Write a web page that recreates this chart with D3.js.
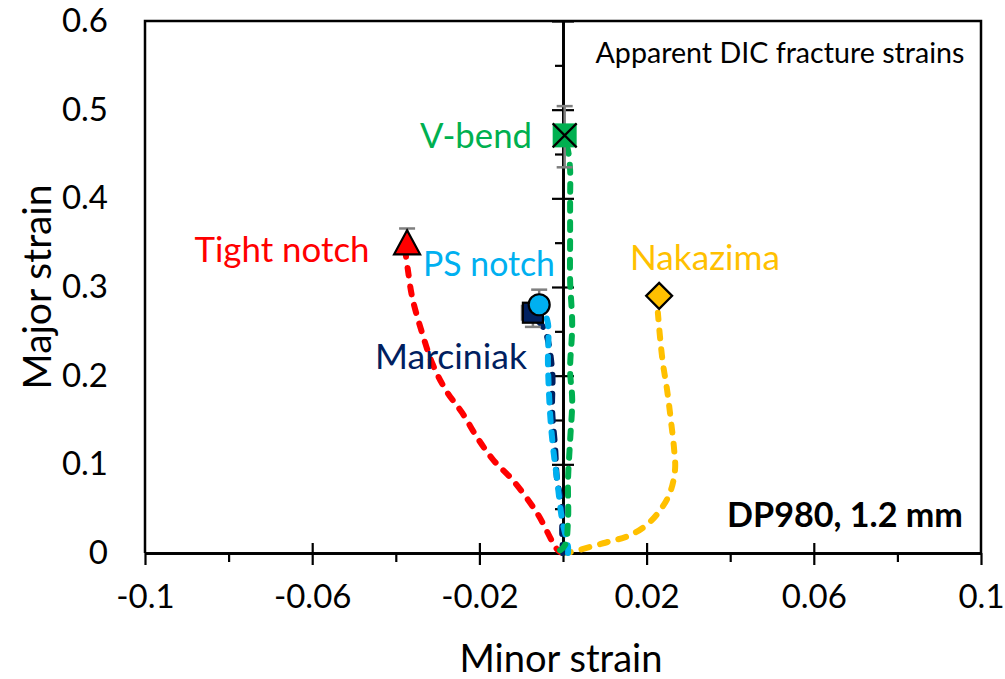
<!DOCTYPE html>
<html><head><meta charset="utf-8">
<script src="https://cdn.jsdelivr.net/npm/d3@7"></script>
<style>body{margin:0;background:#fff}svg{display:block}text{font-family:Lato,"Open Sans",sans-serif}</style>
</head><body>
<script>
// ---------- data ----------
const xMajorTicks = [-0.1, -0.06, -0.02, 0.02, 0.06, 0.1];
const xMajorLabels = ["-0.1", "-0.06", "-0.02", "0.02", "0.06", "0.1"];
const xMinorTicks = [-0.08, -0.04, 0, 0.04, 0.08];
const yMajorTicks = [0, 0.1, 0.2, 0.3, 0.4, 0.5, 0.6];
const yMajorLabels = ["0", "0.1", "0.2", "0.3", "0.4", "0.5", "0.6"];
const yMinorTicks = [0.05, 0.15, 0.25, 0.35, 0.45, 0.55];

const tightMinor = [0, -0.0012, -0.0062, -0.0120, -0.0167, -0.0205, -0.0241, -0.0278, -0.0311, -0.0337, -0.0361, -0.0371, -0.0376];
const tightMajor = [0, 0.003, 0.045, 0.082, 0.105, 0.130, 0.158, 0.182, 0.212, 0.248, 0.289, 0.319, 0.336];

const nakMinor = [0, 0.0017, 0.0096, 0.0160, 0.0201, 0.0232, 0.0256, 0.0268, 0.0266, 0.0258, 0.0249, 0.0239, 0.0232, 0.0227];
const nakMajor = [0, 0.001, 0.011, 0.020, 0.032, 0.048, 0.068, 0.094, 0.116, 0.150, 0.184, 0.214, 0.244, 0.271];

const vbendMinor = [-0.0007, 0.0005, 0.0012, 0.0012, 0.0017, 0.0022, 0.0017, 0.0022, 0.0017, 0.0017, 0.0017, 0.0017, 0.0012, 0.0004];
const vbendMajor = [0.003, 0.009, 0.037, 0.082, 0.127, 0.173, 0.206, 0.257, 0.308, 0.353, 0.398, 0.432, 0.454, 0.466];

const marcMinor = [0, -0.0002, -0.0002, -0.0014, -0.0019, -0.0026, -0.0026, -0.0043, -0.0060];
const marcMajor = [0, 0.023, 0.052, 0.082, 0.120, 0.161, 0.206, 0.251, 0.262];

const psMinor = [0.0012, 0.0012, -0.0002, -0.0014, -0.0024, -0.0031, -0.0036, -0.0036, -0.0045];
const psMajor = [0, 0.007, 0.037, 0.082, 0.120, 0.158, 0.214, 0.259, 0.272];

// fracture points
const fractureNames = ["Tight notch", "PS notch", "Marciniak", "Nakazima", "V-bend"];
const fractureMinor = [-0.0373, -0.0057, -0.0072, 0.0230, 0.0004];
const fractureMajor = [0.347, 0.280, 0.271, 0.290, 0.471];
const fractureErrLow = [0.338, 0.275, 0.255, 0.290, 0.435];
const fractureErrHigh = [0.366, 0.297, 0.271, 0.290, 0.504];
const fractureErrMinorLow = [-0.0373, -0.0057, -0.0098, 0.0230, 0.0004];

const colors = {tight: "#FF0000", ps: "#00B0F0", marc: "#002060", nak: "#FFC000", vbend: "#00B050"};

// ---------- layout ----------
const W = 1005, H = 679;
const svg = d3.select("body").append("svg").attr("width", W).attr("height", H);
const x = d3.scaleLinear().domain([-0.1, 0.1]).range([145, 981]);
const y = d3.scaleLinear().domain([0, 0.6]).range([553, 21]);

function fit(sel, width) {
  const n = sel.node();
  const fs = parseFloat(sel.attr("font-size"));
  const w = n.getComputedTextLength();
  sel.attr("font-size", fs * width / w);
  return sel;
}

// frame
svg.append("path")
  .attr("d", `M${x(-0.1)},${y(0)}V${y(0.6)}H${x(0.1)}V${y(0)}`)
  .attr("fill", "none").attr("stroke", "#000").attr("stroke-width", 2.5);

// x axis
const gx = svg.append("g").attr("transform", `translate(0,${y(0)})`);
gx.call(d3.axisBottom(x).tickValues(xMajorTicks).tickSize(12).tickSizeOuter(0)
  .tickFormat((d, i) => xMajorLabels[i]).tickPadding(20));
gx.append("g").call(d3.axisTop(x).tickValues(xMajorTicks.slice(1, -1)).tickSize(10).tickSizeOuter(0).tickFormat(""));
gx.append("g").call(d3.axisBottom(x).tickValues(xMinorTicks).tickSize(9).tickSizeOuter(0).tickFormat(""));
gx.selectAll("path.domain").attr("stroke", "#000").attr("stroke-width", 2.5);
gx.selectAll(".tick line").attr("stroke", "#000").attr("stroke-width", 2.2);
gx.selectAll(".tick text").attr("font-size", 33).attr("fill", "#000").attr("font-family", "Lato");

// y labels on left frame
const gyl = svg.append("g").attr("transform", `translate(${x(-0.1)},0)`);
gyl.call(d3.axisLeft(y).tickValues(yMajorTicks).tickSize(0).tickPadding(37)
  .tickFormat((d, i) => yMajorLabels[i]));
gyl.select("path.domain").remove();
gyl.selectAll(".tick text").attr("font-size", 33).attr("fill", "#000").attr("font-family", "Lato");

// y axis line at x = 0
const gy = svg.append("g").attr("transform", `translate(${x(0)},0)`);
gy.call(d3.axisLeft(y).tickValues(yMajorTicks.slice(1)).tickSize(11).tickSizeOuter(0).tickFormat(""));
gy.append("g").call(d3.axisRight(y).tickValues(yMajorTicks.slice(1)).tickSize(11).tickSizeOuter(0).tickFormat(""));
gy.append("g").call(d3.axisLeft(y).tickValues(yMinorTicks).tickSize(8).tickSizeOuter(0).tickFormat(""));
gy.selectAll("path.domain").attr("stroke", "#000").attr("stroke-width", 2.5);
gy.selectAll(".tick line").attr("stroke", "#000").attr("stroke-width", 2.2);

// axis titles
fit(svg.append("text").attr("x", 561).attr("y", 657).attr("text-anchor", "middle")
  .attr("dominant-baseline", "central").attr("font-size", 30).text("Minor strain"), 203);
fit(svg.append("text").attr("transform", "translate(36,287) rotate(-90)").attr("text-anchor", "middle")
  .attr("dominant-baseline", "central").attr("font-size", 30).text("Major strain"), 205);

// curves
const line = d3.line().x(d => x(d[0])).y(d => y(d[1])).curve(d3.curveCatmullRom.alpha(0.5));
function curve(mx, my, color) {
  svg.append("path").datum(mx.map((v, i) => [v, my[i]]))
    .attr("d", line).attr("fill", "none").attr("stroke", color)
    .attr("stroke-width", 6).attr("stroke-linecap", "round")
    .attr("stroke-dasharray", "8,11");
}
curve(tightMinor, tightMajor, colors.tight);
curve(nakMinor, nakMajor, colors.nak);
curve(marcMinor, marcMajor, colors.marc);
curve(psMinor, psMajor, colors.ps);
curve(vbendMinor, vbendMajor, colors.vbend);

// error bars
const eg = svg.append("g").attr("stroke", "#7F7F7F").attr("stroke-width", 2.5).attr("fill", "none");
fractureMinor.forEach((mx, i) => {
  const cx = x(mx);
  if (fractureErrHigh[i] !== fractureErrLow[i]) {
    eg.append("line").attr("x1", cx).attr("x2", cx).attr("y1", y(fractureErrLow[i])).attr("y2", y(fractureErrHigh[i]));
    eg.append("line").attr("x1", cx - 8).attr("x2", cx + 8).attr("y1", y(fractureErrHigh[i])).attr("y2", y(fractureErrHigh[i]));
    if (fractureErrLow[i] < fractureMajor[i])
      eg.append("line").attr("x1", cx - 8).attr("x2", cx + 8).attr("y1", y(fractureErrLow[i])).attr("y2", y(fractureErrLow[i]));
  }
  if (fractureErrMinorLow[i] !== mx) {
    const cy = y(fractureMajor[i]);
    eg.append("line").attr("x1", x(fractureErrMinorLow[i])).attr("x2", cx).attr("y1", cy).attr("y2", cy);
    eg.append("line").attr("x1", x(fractureErrMinorLow[i])).attr("x2", x(fractureErrMinorLow[i])).attr("y1", cy - 8).attr("y2", cy + 8);
  }
});

// markers
const mg = svg.append("g").attr("stroke", "#000").attr("stroke-width", 2.2);
{
  const cx = x(fractureMinor[0]), cy = y(fractureMajor[0]);
  mg.append("path").attr("d", `M${cx},${cy - 15}L${cx + 13},${cy + 9}L${cx - 13},${cy + 9}Z`).attr("fill", colors.tight);
}
{
  const cx = x(fractureMinor[2]), cy = y(fractureMajor[2]);
  mg.append("rect").attr("x", cx - 10).attr("y", cy - 10).attr("width", 20).attr("height", 20).attr("fill", colors.marc);
}
{
  const cx = x(fractureMinor[1]), cy = y(fractureMajor[1]);
  mg.append("circle").attr("cx", cx).attr("cy", cy).attr("r", 10.5).attr("fill", colors.ps);
}
{
  const cx = x(fractureMinor[3]), cy = y(fractureMajor[3]);
  mg.append("path").attr("d", `M${cx},${cy - 13}L${cx + 13},${cy}L${cx},${cy + 13}L${cx - 13},${cy}Z`).attr("fill", colors.nak);
}
{
  const cx = x(fractureMinor[4]), cy = y(fractureMajor[4]);
  mg.append("rect").attr("x", cx - 12).attr("y", cy - 12).attr("width", 24).attr("height", 24).attr("fill", colors.vbend).attr("stroke", "none");
  mg.append("path").attr("d", `M${cx - 12},${cy - 12}L${cx + 12},${cy + 12}M${cx + 12},${cy - 12}L${cx - 12},${cy + 12}`).attr("fill", "none");
}

// series labels
function label(txt, cx, cy, w, color, weight) {
  fit(svg.append("text").attr("x", cx).attr("y", cy).attr("text-anchor", "middle")
    .attr("dominant-baseline", "central").attr("font-size", 28).attr("fill", color)
    .attr("font-weight", weight || "normal").text(txt), w);
}
label("V-bend", 476, 134, 112, colors.vbend);
label("Tight notch", 282, 248, 175, colors.tight);
label("PS notch", 489, 263, 132, colors.ps);
label("Nakazima", 705, 256, 150, colors.nak);
label("Marciniak", 451, 355, 152, colors.marc);
label("DP980, 1.2 mm", 845, 513, 236, "#000", "bold");
label("Apparent DIC fracture strains", 780, 52, 369, "#000");
</script>
</body></html>
